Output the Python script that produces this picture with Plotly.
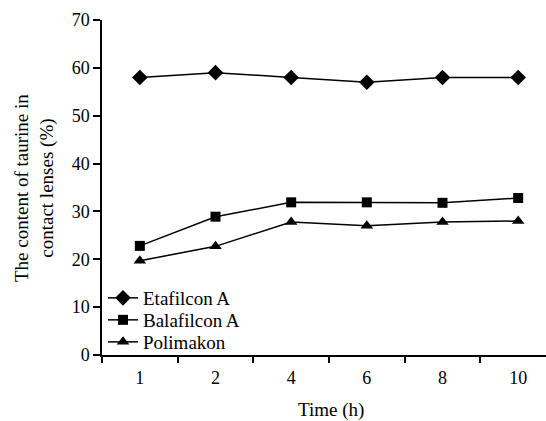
import plotly.graph_objects as go

time_labels = ["1", "2", "4", "6", "8", "10"]
etafilcon = [58, 59, 58, 57, 58, 58]
balafilcon = [22.8, 28.9, 31.9, 31.9, 31.8, 32.8]
polimakon = [19.7, 22.7, 27.8, 27.0, 27.8, 28.0]

FONT = "Liberation Serif"
W, H = 546, 421
L, R, T, B = 102, 0, 20, 66
pw, ph = W - L - R, H - T - B

def px_x(p):
    return (p - L) / pw

def px_y(p):
    return (H - B - p) / ph

fig = go.Figure()
series = [
    ("Etafilcon A", etafilcon, "diamond", 12, "legend", 298),
    ("Balafilcon A", balafilcon, "square", 10, "legend2", 320),
    ("Polimakon", polimakon, "triangle-up", 11, "legend3", 342),
]
legends = {}
for name, vals, sym, sz, lg, ly in series:
    fig.add_trace(go.Scatter(
        x=time_labels, y=vals, name=name, mode="lines+markers",
        line=dict(color="black", width=1.5),
        marker=dict(symbol=sym, size=sz, color="black"),
        legend=lg,
    ))
    legends[lg] = dict(x=px_x(103), y=px_y(ly), xanchor="left", yanchor="middle",
                       bgcolor="rgba(0,0,0,0)", font=dict(size=19, family=FONT),
                       itemsizing="trace")

fig.update_layout(
    width=W, height=H,
    margin=dict(l=L, r=R, t=T, b=B),
    paper_bgcolor="white", plot_bgcolor="white",
    font=dict(family=FONT, size=18, color="black"),
    showlegend=True,
    **legends,
    xaxis=dict(
        type="category", range=[-0.5, -0.5 + 6 * pw / 454],
        showline=True, linecolor="black", linewidth=1.5,
        ticks="outside", tickson="boundaries", ticklen=6, tickwidth=2,
        tickcolor="black", showgrid=False, zeroline=False,
        tickfont=dict(size=18, family=FONT), ticklabelstandoff=6,
    ),
    yaxis=dict(
        range=[0, 70], dtick=10, showline=True, linecolor="black",
        linewidth=1.5, ticks="outside", ticklen=7, tickwidth=1.5,
        tickcolor="black", showgrid=False, zeroline=False,
        tickfont=dict(size=18, family=FONT),
    ),
    annotations=[
        dict(text="The content of taurine in<br>contact lenses (%)",
             xref="paper", yref="paper", x=px_x(34), y=px_y(188),
             xanchor="center", yanchor="middle", textangle=-90,
             showarrow=False, font=dict(size=19, family=FONT)),
        dict(text="Time (h)", xref="paper", yref="paper",
             x=px_x(331), y=px_y(410), xanchor="center", yanchor="middle",
             showarrow=False, font=dict(size=19, family=FONT)),
    ],
)

fig.write_html("out.html", config={"displayModeBar": False},
               post_script="document.body.style.margin='0';")
